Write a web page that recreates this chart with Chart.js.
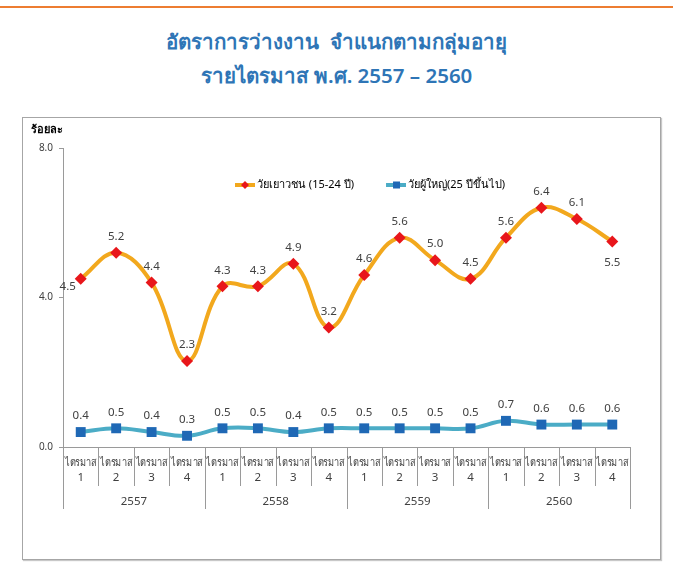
<!DOCTYPE html>
<html>
<head>
<meta charset="utf-8">
<script src="https://cdn.jsdelivr.net/npm/chart.js@4"></script>
<style>
  body { margin: 0; background: #fff; width: 673px; height: 574px; position: relative; overflow: hidden;
         font-family: Tahoma, "Noto Sans", sans-serif; }
  .topline { position: absolute; left: 0; top: 6px; width: 673px; height: 2px; background: #ED7D31; }
  .title { position: absolute; left: 0; width: 673px; text-align: center; color: #2E75B6;
           font-weight: 600; font-size: 20.5px; line-height: 28px; }
  .box { position: absolute; left: 22px; top: 117px; width: 637px; height: 441px;
         border: 1px solid #a6a6a6; box-shadow: 1px 1px 1px #c8c8c8; }
  canvas { display: block; }
</style>
</head>
<body>
<div class="topline"></div>
<div class="title" style="top:27px">อัตราการว่างงาน&nbsp;&nbsp;จำแนกตามกลุ่มอายุ</div>
<div class="title" style="top:61px">รายไตรมาส พ.ศ. 2557 – 2560</div>
<div class="box"><canvas id="c" width="637" height="441"></canvas></div>
<script>
const years = ["2557", "2558", "2559", "2560"];
const quarters = ["1", "2", "3", "4"];
const quarterWord = "ไตรมาส";
const youth = [4.5, 5.2, 4.4, 2.3, 4.3, 4.3, 4.9, 3.2, 4.6, 5.6, 5.0, 4.5, 5.6, 6.4, 6.1, 5.5];
const adult = [0.4, 0.5, 0.4, 0.3, 0.5, 0.5, 0.4, 0.5, 0.5, 0.5, 0.5, 0.5, 0.7, 0.6, 0.6, 0.6];
const yTicks = [0, 4, 8];
const youthName = "วัยเยาวชน (15-24 ปี)";
const adultName = "วัยผู้ใหญ่(25 ปีขึ้นไป)";
const yUnit = "ร้อยละ";

const labels = [];
years.forEach(y => quarters.forEach(q => labels.push(y + "-" + q)));

const FONT = 'Tahoma, "Noto Sans", sans-serif';
const TEXT = "#404040";

// narrow text, like the condensed Thai face of the original
function narrowText(ctx, s, x, y, sx) {
  ctx.save();
  ctx.translate(x, y);
  ctx.scale(sx, 1);
  ctx.fillText(s, 0, 0);
  ctx.restore();
}

// value labels, x axis groups, unit and legend
const extras = {
  id: "extras",
  afterDatasetsDraw(chart) {
    const ctx = chart.ctx;
    ctx.save();
    ctx.font = "11.5px " + FONT;
    ctx.fillStyle = TEXT;
    ctx.textAlign = "center";
    ctx.textBaseline = "middle";
    chart.data.datasets.forEach((ds, di) => {
      chart.getDatasetMeta(di).data.forEach((pt, i) => {
        let dx = 0, dy = -16;
        if (di === 0 && i === 0) { dx = -13; dy = 8; }
        if (di === 0 && i === ds.data.length - 1) { dy = 21; }
        ctx.fillText(ds.data[i].toFixed(1), pt.x + dx, pt.y + dy);
      });
    });
    ctx.restore();
  },
  afterDraw(chart) {
    const ctx = chart.ctx;
    const xs = chart.scales.x;
    const area = chart.chartArea;
    const half = (xs.getPixelForValue(1) - xs.getPixelForValue(0)) / 2;
    const base = area.bottom;
    ctx.save();
    ctx.strokeStyle = "#9a9a9a";
    ctx.lineWidth = 1;
    for (let i = 0; i <= labels.length; i++) {
      const x = Math.round((i < labels.length ? xs.getPixelForValue(i) - half : xs.getPixelForValue(i - 1) + half)) + 0.5;
      const len = i % quarters.length === 0 ? 62 : 39;
      ctx.beginPath();
      ctx.moveTo(x, base);
      ctx.lineTo(x, base + len);
      ctx.stroke();
    }
    ctx.fillStyle = TEXT;
    ctx.textAlign = "center";
    ctx.textBaseline = "middle";
    ctx.font = "11.5px " + FONT;
    labels.forEach((l, i) => {
      const x = xs.getPixelForValue(i);
      narrowText(ctx, quarterWord, x, base + 16, 0.8);
      ctx.fillText(quarters[i % quarters.length], x, base + 31);
    });
    years.forEach((y, g) => {
      const a = xs.getPixelForValue(g * quarters.length);
      const b = xs.getPixelForValue(g * quarters.length + quarters.length - 1);
      ctx.fillText(y, (a + b) / 2, base + 55);
    });
    // unit
    ctx.textAlign = "left";
    ctx.font = "bold 11px " + FONT;
    ctx.fillStyle = "#000";
    ctx.fillText(yUnit, 8, 12);
    // legend
    ctx.font = "11px " + FONT;
    const ly = 67;
    let lx = 212;
    const items = [
      { name: youthName, line: "#F2A81D", mark: "#E8161B", diamond: true },
      { name: adultName, line: "#4BACC6", mark: "#1F68B5", diamond: false }
    ];
    items.forEach(it => {
      ctx.strokeStyle = it.line;
      ctx.lineWidth = 4;
      ctx.beginPath();
      ctx.moveTo(lx, ly);
      ctx.lineTo(lx + 20, ly);
      ctx.stroke();
      ctx.fillStyle = it.mark;
      if (it.diamond) {
        ctx.beginPath();
        ctx.moveTo(lx + 10, ly - 4);
        ctx.lineTo(lx + 14, ly);
        ctx.lineTo(lx + 10, ly + 4);
        ctx.lineTo(lx + 6, ly);
        ctx.closePath();
        ctx.fill();
      } else {
        ctx.fillRect(lx + 7, ly - 3.5, 7, 7);
      }
      ctx.fillStyle = "#000";
      ctx.fillText(it.name, lx + 22, ly);
      lx += 22 + ctx.measureText(it.name).width + 32;
    });
    ctx.restore();
  }
};

new Chart(document.getElementById("c").getContext("2d"), {
  type: "line",
  data: {
    labels: labels,
    datasets: [
      {
        label: youthName,
        data: youth,
        borderColor: "#F2A81D",
        borderWidth: 4,
        tension: 0.4,
        pointStyle: "rectRot",
        pointRadius: 6,
        pointBackgroundColor: "#E8161B",
        pointBorderColor: "#E8161B",
        pointBorderWidth: 0
      },
      {
        label: adultName,
        data: adult,
        borderColor: "#4BACC6",
        borderWidth: 4,
        tension: 0.4,
        pointStyle: "rect",
        pointRadius: 7,
        pointBackgroundColor: "#1F68B5",
        pointBorderColor: "#1F68B5",
        pointBorderWidth: 0
      }
    ]
  },
  options: {
    responsive: false,
    devicePixelRatio: 1,
    animation: false,
    layout: { padding: { top: 30, right: 30, bottom: 0, left: 0 } },
    plugins: {
      legend: { display: false },
      tooltip: { enabled: false }
    },
    scales: {
      x: {
        offset: true,
        grid: { display: false },
        ticks: { display: false },
        border: { display: true, color: "#9a9a9a" },
        afterFit(s) { s.height = 112; }
      },
      y: {
        min: 0,
        max: 8,
        afterBuildTicks(s) { s.ticks = yTicks.map(v => ({ value: v })); },
        ticks: {
          font: { size: 10, family: FONT },
          color: TEXT,
          padding: 6,
          callback: v => Number(v).toFixed(1)
        },
        grid: { drawOnChartArea: false, tickLength: 4, color: "#9a9a9a" },
        border: { color: "#9a9a9a" },
        afterFit(s) { s.width = 40; }
      }
    }
  },
  plugins: [extras]
});
</script>
</body>
</html>
